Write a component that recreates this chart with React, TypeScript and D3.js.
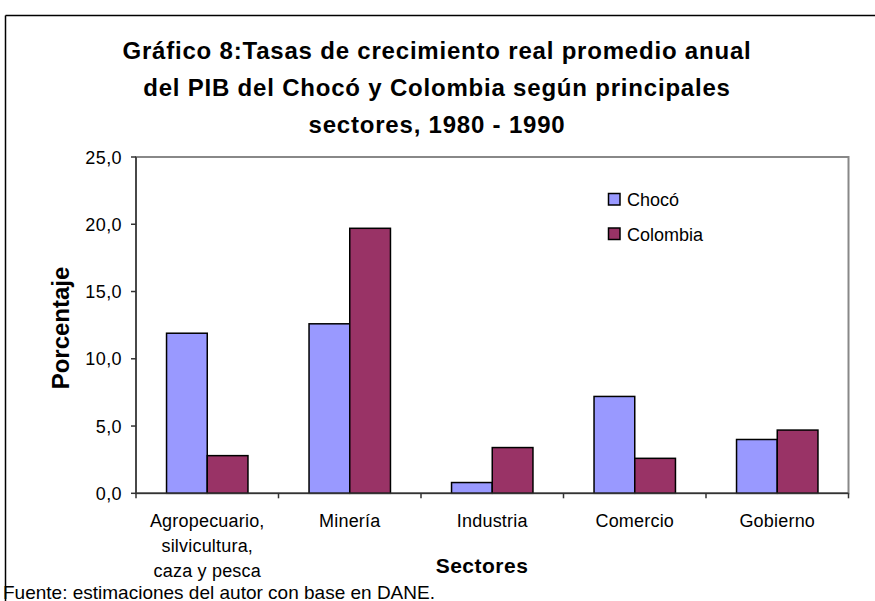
import React from "react";
import * as d3 from "d3";

const categories: string[][] = [
  ["Agropecuario,", "silvicultura,", "caza y pesca"],
  ["Minería"],
  ["Industria"],
  ["Comercio"],
  ["Gobierno"],
];
const seriesNames = ["Chocó", "Colombia"];
const choco = [11.9, 12.6, 0.8, 7.2, 4.0];
const colombia = [2.8, 19.7, 3.4, 2.6, 4.7];
const yTicks = [0, 5, 10, 15, 20, 25];
const titleLines = [
  "Gráfico 8:Tasas de crecimiento real promedio anual",
  "del PIB del Chocó y Colombia según principales",
  "sectores, 1980 - 1990",
];
const colors = ["#9999FF", "#993366"];

const FONT = "'Liberation Sans', Arial, sans-serif";

export default function App() {
  const left = 136, right = 848.5, top = 157, bottom = 493.3;
  const x = d3.scaleBand<number>().domain(d3.range(categories.length)).range([left, right]).paddingInner(0).paddingOuter(0);
  const y = d3.scaleLinear().domain([0, 25]).range([bottom, top]);
  const bw = x.bandwidth();
  const barW = bw / 3.5;
  const series = [choco, colombia];
  const fmt = (v: number) => d3.format(".1f")(v).replace(".", ",");

  return (
    <svg width={875} height={601} style={{ position: "absolute", left: 0, top: 0, background: "#fff" }} fontFamily={FONT}>
      <rect x={0} y={0} width={875} height={601} fill="#fff" />
      {/* outer frame */}
      <line x1={5.5} y1={15.5} x2={875} y2={15.5} stroke="#000" strokeWidth={1.5} />
      <line x1={5.5} y1={15.5} x2={5.5} y2={601} stroke="#000" strokeWidth={1.5} />
      {/* title */}
      {titleLines.map((t, i) => (
        <text key={i} x={437} y={59 + i * 37} textAnchor="middle" fontSize={24} fontWeight="bold" letterSpacing={0.8} fill="#000">
          {t}
        </text>
      ))}
      {/* plot area border */}
      <rect x={left} y={top} width={right - left} height={bottom - top} fill="none" stroke="#888" strokeWidth={2} />
      {/* bars */}
      {series.map((s, si) =>
        s.map((v, i) => (
          <rect
            key={`${si}-${i}`}
            x={(x(i) as number) + (bw - 2 * barW) / 2 + si * barW}
            y={y(v)}
            width={barW}
            height={y(0) - y(v)}
            fill={colors[si]}
            stroke="#000"
            strokeWidth={1.5}
          />
        ))
      )}
      {/* axes */}
      <line x1={left} y1={top} x2={left} y2={bottom} stroke="#333" strokeWidth={1.5} />
      <line x1={left} y1={bottom} x2={right} y2={bottom} stroke="#333" strokeWidth={1.5} />
      {yTicks.map((t) => (
        <g key={t}>
          <line x1={left - 5} x2={left} y1={y(t)} y2={y(t)} stroke="#333" strokeWidth={1.5} />
          <text x={122} y={y(t) + 6.5} textAnchor="end" fontSize={18} letterSpacing={0.4} fill="#000">
            {fmt(t)}
          </text>
        </g>
      ))}
      {d3.range(categories.length + 1).map((i) => {
        const xx = i < categories.length ? (x(i) as number) : right;
        return <line key={i} x1={xx} x2={xx} y1={bottom} y2={bottom + 5} stroke="#333" strokeWidth={1.5} />;
      })}
      {categories.map((lines, i) =>
        lines.map((l, j) => (
          <text key={`${i}-${j}`} x={(x(i) as number) + bw / 2} y={527 + j * 25} textAnchor="middle" fontSize={18} letterSpacing={0.2} fill="#000">
            {l}
          </text>
        ))
      )}
      {/* axis titles */}
      <text transform={`translate(69,328) rotate(-90)`} textAnchor="middle" fontSize={24} fontWeight="bold" fill="#000">
        Porcentaje
      </text>
      <text x={482} y={573} textAnchor="middle" fontSize={21} fontWeight="bold" letterSpacing={0.5} fill="#000">
        Sectores
      </text>
      {/* legend */}
      {seriesNames.map((n, i) => (
        <g key={n}>
          <rect x={608.5} y={193.5 + i * 34.5} width={11.5} height={11.5} fill={colors[i]} stroke="#000" strokeWidth={1.5} />
          <text x={627} y={206 + i * 34.5} fontSize={18} fill="#000">
            {n}
          </text>
        </g>
      ))}
      {/* footer */}
      <text x={3} y={598.5} fontSize={19} fill="#000">
        Fuente: estimaciones del autor con base en DANE.
      </text>
    </svg>
  );
}
